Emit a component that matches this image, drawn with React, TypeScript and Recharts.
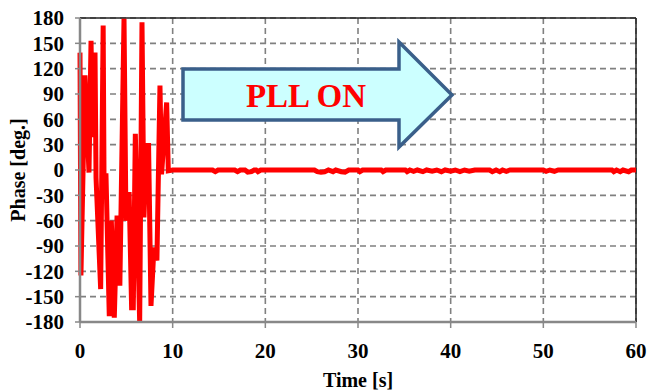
import { CartesianGrid, Line, LineChart, ReferenceLine, XAxis, YAxis } from "recharts";

// transient before the PLL locks (0-10 s)
const transientTime = [
  0, 0.1, 0.54, 0.97, 1.19, 1.37, 1.62, 1.73, 2.23, 2.5, 2.6, 2.8, 3.16, 3.38, 3.7, 4.0, 4.3, 4.75,
  4.96, 5.3, 5.57, 5.75, 5.97, 6.44, 6.69, 6.9, 7.19, 7.4, 7.66, 7.98, 8.3, 8.63, 8.8, 9.35, 9.53, 10,
];
const transientPhase = [
  139, -125, 112, -3, 153, 39, 139, -9, -141, 171, -26, -4, -173, -60, -175, -54, -137, 179,
  -60, -26, -163, -163, 43, -180, 175, -56, 29, 29, -161, -92, -107, 100, -5, 80, -1, 0,
];

// locked phase after 10 s, small dips only
const lockedTime = [
  10.2, 14.3, 14.6, 14.9, 16.7, 17, 17.3, 17.8, 18.1, 18.5, 18.8, 19, 19.2, 19.5, 25.3, 25.6, 26,
  26.4, 26.8, 27.3, 27.6, 28.2, 28.6, 29, 30, 30.2, 30.5, 32.5, 32.7, 33, 35.1, 35.3, 35.6, 36,
  36.4, 37, 37.4, 38, 38.5, 39, 39.4, 40, 40.5, 41, 41.5, 42, 42.6, 44.2, 44.5, 44.9, 45.3, 45.6,
  46, 46.4, 50, 50.3, 50.7, 51.2, 51.6, 57.4, 57.6, 57.9, 58.3, 58.6, 59.2, 59.5, 60,
];
const lockedPhase = [
  0, 0, -2, 0, 0, -2, 0, 0, -2.5, -2, 0, 0, -2, 0, 0, -2, -2.5,
  -2, 0, -2, 0, -2, -2.5, 0, 0, -2, 0, 0, -2, 0, 0, -2, 0, -1.5,
  0, -2, 0, -1.5, 0, -2, 0, -1.5, 0, -2, 0, -1.5, 0, 0, -2, 0, -2, 0,
  -1.5, 0, 0, -1.5, 0, -1.5, 0, 0, -2, 0, -2, 0, -2, 0, 0,
];

const xTicks = [0, 10, 20, 30, 40, 50, 60];
const yTicks = [-180, -150, -120, -90, -60, -30, 0, 30, 60, 90, 120, 150, 180];

const data = [
  ...transientTime.map((t, i) => ({ t, phase: transientPhase[i] })),
  ...lockedTime.map((t, i) => ({ t, phase: lockedPhase[i] })),
];

const font = "'Liberation Serif', 'Times New Roman', serif";
const tickStyle = { fontFamily: font, fontWeight: 700, fontSize: 21, fill: "#000" };

export default function App() {
  return (
    <div style={{ position: "relative", width: 649, height: 390 }}>
      <style>{"body{margin:0}"}</style>
      <LineChart
        width={649}
        height={390}
        data={data}
        margin={{ top: 18, right: 13, bottom: 0, left: 0 }}
      >
        <CartesianGrid stroke="#808080" strokeDasharray="6 4" strokeWidth={1.6} />
        <XAxis
          dataKey="t"
          type="number"
          domain={[0, 60]}
          ticks={xTicks}
          height={68}
          tick={tickStyle}
          tickSize={6}
          tickMargin={15}
          tickLine={{ stroke: "#888", strokeWidth: 1.5 }}
          axisLine={{ stroke: "#888", strokeWidth: 2.5 }}
          label={() => (
            <text x={358} y={387} textAnchor="middle" style={{ ...tickStyle, fontSize: 20 }}>
              Time [s]
            </text>
          )}
        />
        <YAxis
          type="number"
          domain={[-180, 180]}
          ticks={yTicks}
          width={80}
          interval={0}
          tick={tickStyle}
          tickSize={5}
          tickMargin={11}
          tickLine={{ stroke: "#888", strokeWidth: 1.5 }}
          axisLine={{ stroke: "#888", strokeWidth: 2.5 }}
          label={() => (
            <text
              x={18}
              y={170}
              transform="rotate(-90 18 170)"
              textAnchor="middle"
              dominantBaseline="central"
              style={{ ...tickStyle, fontSize: 20 }}
            >
              Phase [deg.]
            </text>
          )}
        />
        <ReferenceLine y={180} stroke="#222" strokeWidth={1.5} />
        <ReferenceLine x={60} stroke="#222" strokeWidth={1.5} />
        <Line
          dataKey="phase"
          type="linear"
          stroke="#ff0000"
          strokeWidth={5}
          dot={false}
          isAnimationActive={false}
        />
      </LineChart>
      <svg
        width={649}
        height={390}
        style={{ position: "absolute", left: 0, top: 0, pointerEvents: "none" }}
      >
        <polygon
          points="183,69 399,69 399,42 452,95 399,147 399,120 183,120"
          fill="#ccffff"
          stroke="#3a5f8a"
          strokeWidth={3.5}
          strokeLinejoin="miter"
        />
        <text
          x={306}
          y={107}
          textAnchor="middle"
          style={{ fontFamily: font, fontWeight: 700, fontSize: 33, fill: "#ff0000" }}
        >
          PLL ON
        </text>
      </svg>
    </div>
  );
}
